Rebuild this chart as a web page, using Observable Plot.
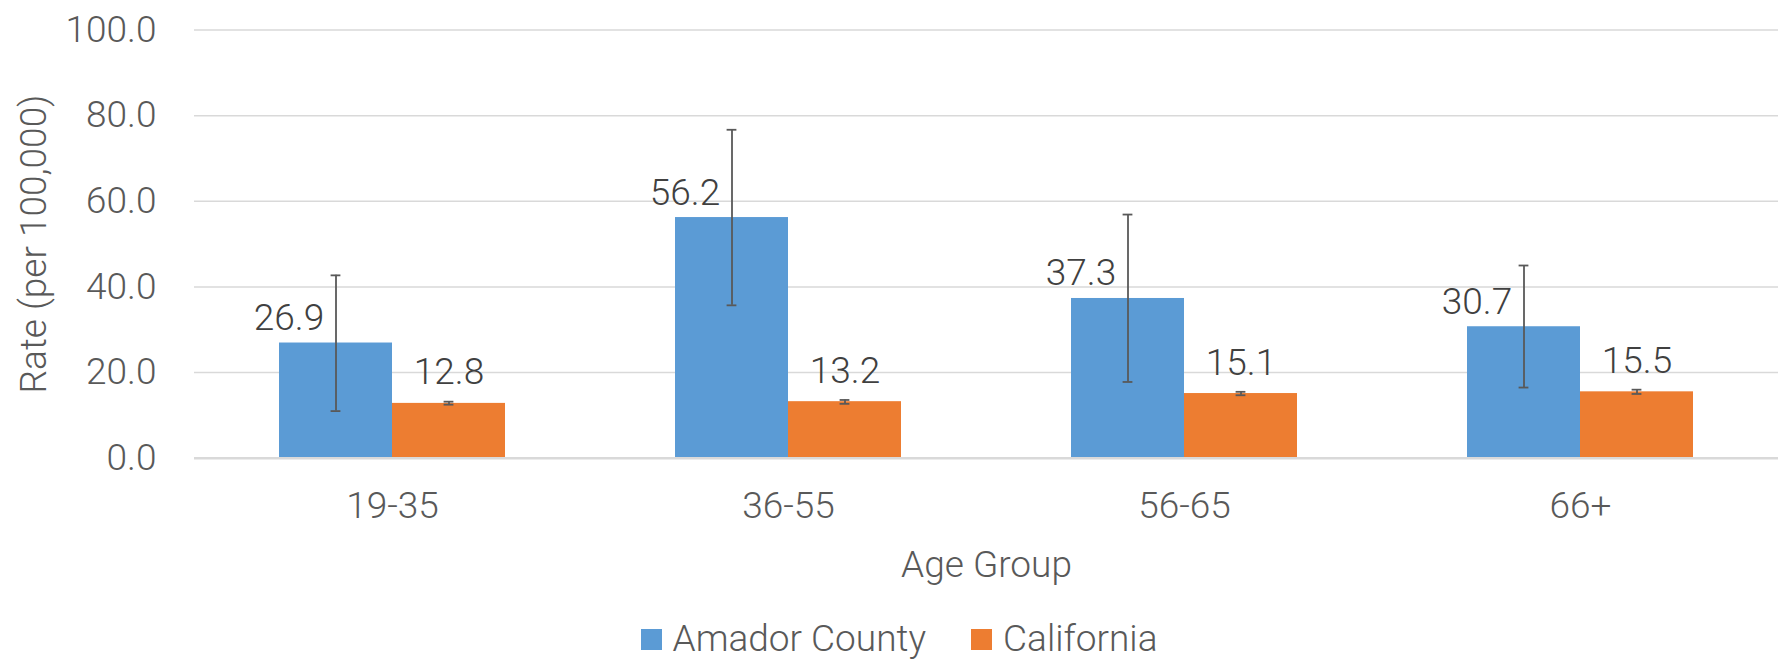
<!DOCTYPE html>
<html>
<head>
<meta charset="utf-8">
<script src="https://cdn.jsdelivr.net/npm/d3@7"></script>
<script src="https://cdn.jsdelivr.net/npm/@observablehq/plot@0.6"></script>
<style>
  html, body { margin: 0; padding: 0; background: white; }
  #chart { width: 1781px; }
  #chart svg text { font-weight: 300; }
  div.lg-swatches { justify-content: center; padding-left: 62px; min-height: 44px; align-items: center; margin: 0; padding-top: 7px; font-weight: 300; line-height: 44px; }
  div.lg-swatches .lg-swatch { margin-right: 45px; }
  div.lg-swatches .lg-swatch > svg { margin-right: 11px; }
</style>
</head>
<body>
<div id="chart"></div>
<script>
const groups = ["19-35", "36-55", "56-65", "66+"];
const series = ["Amador County", "California"];
const colors = ["#5B9BD5", "#ED7D31"];
const amadorRate = [26.9, 56.2, 37.3, 30.7];
const amadorLower = [11.0, 35.7, 17.8, 16.5];
const amadorUpper = [42.7, 76.7, 56.9, 45.0];
const californiaRate = [12.8, 13.2, 15.1, 15.5];
const californiaLower = [12.5, 12.7, 14.7, 15.0];
const californiaUpper = [13.2, 13.6, 15.5, 16.0];
const yTicks = [0, 20, 40, 60, 80, 100];

const rows = [];
groups.forEach((g, i) => {
  rows.push({group: g, series: series[0], value: amadorRate[i], lo: amadorLower[i], hi: amadorUpper[i]});
  rows.push({group: g, series: series[1], value: californiaRate[i], lo: californiaLower[i], hi: californiaUpper[i]});
});
const amadorRows = rows.filter(d => d.series === series[0]);
const caRows = rows.filter(d => d.series === series[1]);

const font = "Roboto, 'Noto Sans', sans-serif";

const plot = Plot.plot({
  width: 1781,
  height: 610,
  marginLeft: 192,
  marginRight: 2,
  marginTop: 29.5,
  marginBottom: 152.3,
  style: {fontFamily: font, fontSize: "37px", color: "#595959", background: "white", overflow: "visible"},
  fx: {domain: groups, padding: 0, axis: "bottom", label: "Age Group", labelAnchor: "center", labelOffset: 119, tickSize: 0, tickPadding: 34},
  x: {domain: series, paddingInner: 0, paddingOuter: 0.751, axis: null},
  y: {domain: [0, 100], ticks: yTicks, tickFormat: d => d.toFixed(1), tickSize: 0, tickPadding: 38,
      label: "Rate (per 100,000)", labelArrow: "none", labelAnchor: "center", labelOffset: 175},
  color: {domain: series, range: colors},
  marks: [
    Plot.gridY(yTicks, {stroke: "#D9D9D9", strokeOpacity: 1, strokeWidth: 1.5}),
    Plot.barY(rows, {fx: "group", x: "series", y: "value", fill: "series", insetLeft: 0, insetRight: 0}),
    Plot.ruleY([0], {stroke: "#D9D9D9", strokeWidth: 2.5}),
    Plot.ruleX(rows, {fx: "group", x: "series", y1: "lo", y2: "hi", stroke: "#595959", strokeWidth: 1.8}),
    Plot.tickY(rows, {fx: "group", x: "series", y: "lo", stroke: "#595959", strokeWidth: 1.8, insetLeft: 51.6, insetRight: 51.6}),
    Plot.tickY(rows, {fx: "group", x: "series", y: "hi", stroke: "#595959", strokeWidth: 1.8, insetLeft: 51.6, insetRight: 51.6}),
    Plot.text(amadorRows, {fx: "group", x: "series", y: "value", text: d => d.value.toFixed(1), lineAnchor: "bottom", dy: -13, dx: -47, fill: "#404040", fontSize: 37}),
    Plot.text(caRows, {fx: "group", x: "series", y: "value", text: d => d.value.toFixed(1), lineAnchor: "bottom", dy: -19, fill: "#404040", fontSize: 37})
  ]
});
document.getElementById("chart").appendChild(plot);

const legend = Plot.legend({
  color: {domain: series, range: colors, type: "ordinal"},
  swatchSize: 21,
  className: "lg",
  style: {fontFamily: font, fontSize: "37px", color: "#595959"}
});
document.getElementById("chart").appendChild(legend);
</script>
</body>
</html>
